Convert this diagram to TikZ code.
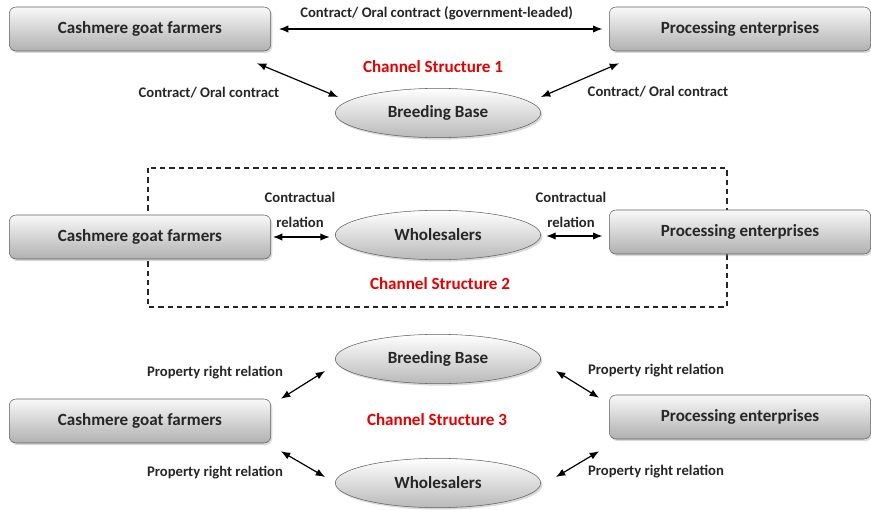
\documentclass[tikz,border=0pt]{standalone}
\usepackage{fontspec}
\setmainfont{Carlito}
\usetikzlibrary{arrows.meta, shapes.geometric, shadows}

\begin{document}
\begin{tikzpicture}[x=0.75pt, y=-0.75pt,
    actor/.style={draw=gray!75!black, rounded corners=5pt, minimum width=196pt, minimum height=33pt,
      top color=gray!5, bottom color=gray!62,
      drop shadow={shadow xshift=1.2pt, shadow yshift=-1.5pt, opacity=0.3},
      font=\bfseries\fontsize{12.8}{15}\selectfont, text=black!85},
    hub/.style={ellipse, draw=gray!75!black, minimum width=154pt, minimum height=37pt,
      top color=white, bottom color=gray!55,
      drop shadow={shadow xshift=1.2pt, shadow yshift=-1.5pt, opacity=0.3},
      font=\bfseries\fontsize{12.8}{15}\selectfont, text=black!85},
    rel/.style={{Latex[length=7pt, width=5.5pt]}-{Latex[length=7pt, width=5.5pt]}, line width=0.9pt},
    lbl/.style={font=\bfseries\fontsize{11}{13}\selectfont, inner sep=1pt, text=black!85},
    title/.style={text=red!90!black, font=\bfseries\fontsize{12.8}{15}\selectfont}]
  \useasboundingbox (0,0) rectangle (871,510);

  % Channel structure 1
  \node[actor] (F1) at (140,29) {Cashmere goat farmers};
  \node[actor] (P1) at (740,29) {Processing enterprises};
  \node[hub] (B1) at (438,113) {Breeding Base};
  \node[title] (T1) at (433,67) {Channel Structure 1};
  \draw[rel, shorten <=6pt, shorten >=5pt] (F1) -- (P1)
    node[lbl, pos=0.49, above=5pt] (L1) {Contract/ Oral contract (government-leaded)};
  \draw[rel] ([shift={(-14,12)}]F1.south east) -- ([shift={(3,-16)}]B1.west);
  \draw[rel] ([shift={(0,-16)}]B1.east) -- ([shift={(10,12)}]P1.south west);
  \node[lbl] (L2) at (209,93) {Contract/ Oral contract};
  \node[lbl] (L3) at (658,92) {Contract/ Oral contract};

  % Channel structure 2
  \draw[dashed, gray!30!black, line width=0.8pt, dash pattern=on 4pt off 3pt] (148,168) rectangle (727,307);
  \node[actor] (F2) at (140,237) {Cashmere goat farmers};
  \node[actor] (P2) at (740,232) {Processing enterprises};
  \node[hub] (W2) at (438,235) {Wholesalers};
  \node[title] (T2) at (440,284) {Channel Structure 2};
  \draw[rel, shorten <=1.5pt, shorten >=4pt] (F2.east) -- (F2.east -| W2.west);
  \draw[rel, shorten <=4pt, shorten >=5pt] ([yshift=-0.75pt]W2.east) -- ([yshift=-0.75pt]W2.east -| P2.west);
  \node[lbl, align=center] (L4) at (300,210) {Contractual\\[6pt]relation};
  \node[lbl, align=center] (L5) at (571,210) {Contractual\\[6pt]relation};

  % Channel structure 3
  \node[actor] (F3) at (140,421) {Cashmere goat farmers};
  \node[actor] (P3) at (740,417) {Processing enterprises};
  \node[hub] (B3) at (438,359) {Breeding Base};
  \node[hub] (W3) at (438,483) {Wholesalers};
  \node[title] (T3) at (437,420) {Channel Structure 3};
  \draw[rel] ([shift={(10,0)}]F3.north east) -- ([shift={(-10,12)}]B3.west);
  \draw[rel] ([shift={(10,8)}]F3.south east) -- ([shift={(-10,-6)}]W3.west);
  \draw[rel] ([shift={(15,12)}]B3.east) -- ([shift={(-10,3)}]P3.north west);
  \draw[rel] ([shift={(15,-6)}]W3.east) -- ([shift={(-10,12)}]P3.south west);
  \node[lbl] (L6) at (215,373) {Property right relation};
  \node[lbl] (L7) at (215,473) {Property right relation};
  \node[lbl] (L8) at (656,371) {Property right relation};
  \node[lbl] (L9) at (656,472) {Property right relation};
\end{tikzpicture}
\end{document}
